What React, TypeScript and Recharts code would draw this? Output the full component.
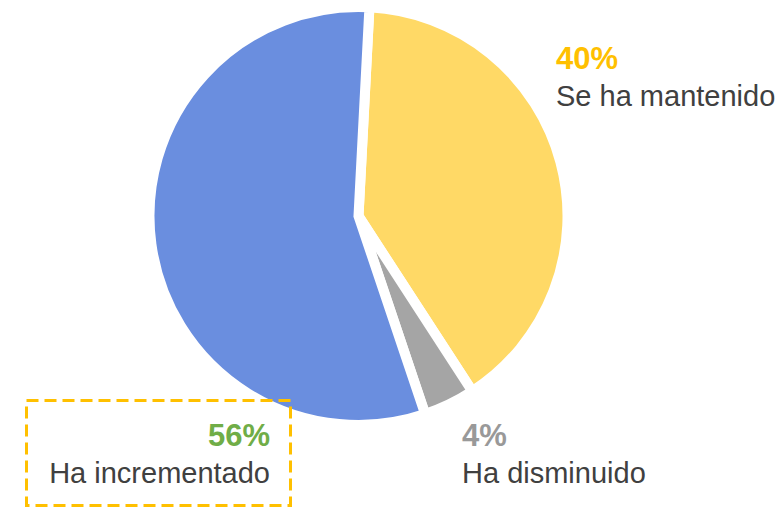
import React from 'react';
import { PieChart, Pie, Cell } from 'recharts';

// categories and values
const categories = ['Se ha mantenido', 'Ha disminuido', 'Ha incrementado'];
const values = [40, 4, 56];
const sliceColors = ['#FFD966', '#A5A5A5', '#6A8EDF'];
const percentColors = ['#FFC000', '#999999', '#70AD47'];

const data = categories.map((name, i) => ({ name, value: values[i] }));

const FONT = '"Liberation Sans", Arial, Helvetica, sans-serif';

// label placement relative to the pie centre
const labelLayout = [
  { dx: 197.5, dy: -147, anchor: 'start' },
  { dx: 103.5, dy: 230, anchor: 'start' },
  { dx: -88.5, dy: 230, anchor: 'end' },
];

const renderLabel = (props: any) => {
  const { cx, cy, index, value } = props;
  const l = labelLayout[index];
  const x = cx + l.dx;
  const y = cy + l.dy;
  return (
    <g key={`lbl-${index}`}>
      {index === 2 && (
        <rect
          x={cx - 332}
          y={cy + 184.5}
          width={264}
          height={105}
          fill="none"
          stroke="#FFC000"
          strokeWidth={3}
          strokeDasharray="12 6"
        />
      )}
      <text x={x} y={y} textAnchor={l.anchor} fontFamily={FONT} fontSize={31} fontWeight="bold" fill={percentColors[index]}>
        {`${value}%`}
      </text>
      <text x={x} y={y + 37} textAnchor={l.anchor} fontFamily={FONT} fontSize={29} fill="#404040">
        {categories[index]}
      </text>
    </g>
  );
};

const App: React.FC = () => {
  return (
    <div style={{ position: 'absolute', left: 0, top: 0, width: 782, height: 507, background: '#fff' }}>
      <PieChart width={782} height={507} margin={{ top: 0, right: 0, bottom: 0, left: 0 }}>
        <Pie
          data={data}
          dataKey="value"
          nameKey="name"
          cx={358.5}
          cy={216}
          outerRadius={209}
          startAngle={87}
          endAngle={-273}
          stroke="#ffffff"
          strokeWidth={10}
          label={renderLabel}
          labelLine={false}
          isAnimationActive={false}
        >
          {data.map((d, i) => (
            <Cell key={d.name} fill={sliceColors[i]} />
          ))}
        </Pie>
      </PieChart>
    </div>
  );
};

export default App;
